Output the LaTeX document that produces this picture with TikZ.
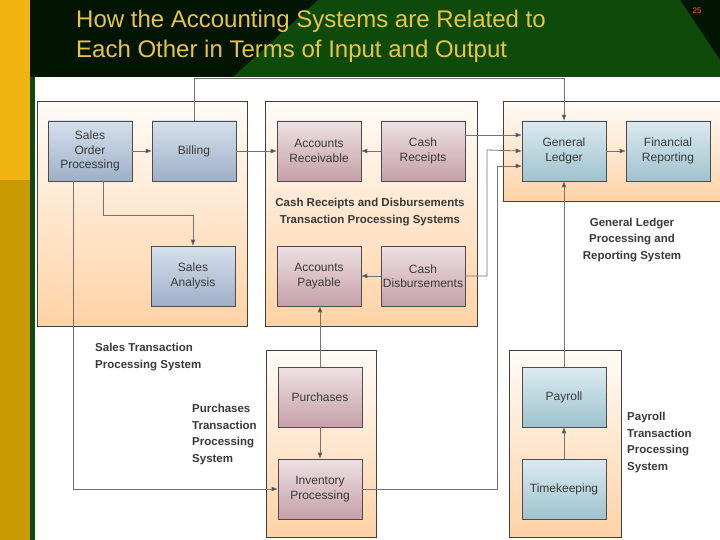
\documentclass[tikz,border=0pt]{standalone}
\usepackage{fontspec}
\setmainfont{Liberation Sans}
\usetikzlibrary{arrows.meta,calc}
\definecolor{gold}{HTML}{F0B410}
\definecolor{dgold}{HTML}{C99A00}
\definecolor{dgreen}{HTML}{0E4A0A}
\definecolor{blk}{HTML}{021402}
\definecolor{ttl}{HTML}{E8C444}
\definecolor{txt}{HTML}{3A3A3A}
\definecolor{btop}{HTML}{D6E0EC}
\definecolor{bbot}{HTML}{9DB0C8}
\definecolor{ptop}{HTML}{EDE0E4}
\definecolor{pbot}{HTML}{C6A0A8}
\definecolor{ttop}{HTML}{DCEAF0}
\definecolor{tbot}{HTML}{9EC3CE}
\begin{document}
\begin{tikzpicture}[x=1pt,y=-1pt,
  grp/.style={draw=black!75,line width=0.9pt,top color=orange!3,bottom color=orange!35!white},
  boxb/.style={draw=black!70,line width=0.7pt,top color=btop,bottom color=bbot,minimum width=84pt,minimum height=60pt,align=center,font=\fontsize{12}{14.5}\selectfont,text=txt,inner sep=1pt},
  boxp/.style={boxb,top color=ptop,bottom color=pbot},
  boxt/.style={boxb,top color=ttop,bottom color=tbot},
  lbl/.style={font=\bfseries\fontsize{11.5}{16.5}\selectfont,text=txt,inner sep=0pt},
  con/.style={draw=black!55,line width=0.8pt},
  arr/.style={con,-{Triangle[length=6pt,width=4.5pt,fill=black!75]}}]
\useasboundingbox (0,0) rectangle (720,540);
% background
\fill[white] (0,0) rectangle (720,540);
\fill[gold] (0,0) rectangle (30,180);
\fill[dgold] (0,180) rectangle (30,540);
\fill[dgreen] (30,0) rectangle (35,540);
\fill[blk] (30,0) rectangle (720,77);
\fill[dgreen] (318,0) -- (680,0) -- (720,60) -- (720,77) -- (233,77) -- cycle;
\node[anchor=west,text=ttl,font=\fontsize{24}{30}\selectfont,align=left,inner sep=0pt] (title) at (76,36) {How the Accounting Systems are Related to\\Each Other in Terms of Input and Output};
\node[text=orange!80!red,font=\fontsize{8}{9}\selectfont] (pg) at (697,11) {25};
% groups
\fill[grp] (37,101) rectangle (247,326);
\fill[grp] (265,101) rectangle (477,326);
\fill[grp] (503,101) rectangle (722,201);
\fill[grp] (266,350) rectangle (376,537);
\fill[grp] (509,350) rectangle (621,537);
% nodes
\node[boxb] (sop) at (90,151) {Sales\\Order\\Processing};
\node[boxb] (bill) at (194,151) {Billing};
\node[boxb] (sa) at (193,276) {Sales\\Analysis};
\node[boxp] (ar) at (319,151) {Accounts\\Receivable};
\node[boxp] (cr) at (423,151) {Cash\\Receipts};
\node[boxp] (ap) at (319,276) {Accounts\\Payable};
\node[boxp] (cd) at (423,276) {Cash\\Disbursements};
\node[boxt] (gl) at (564,151) {General\\Ledger};
\node[boxt] (fr) at (668,151) {Financial\\Reporting};
\node[boxp] (pu) at (320,397) {Purchases};
\node[boxp] (inv) at (320,489) {Inventory\\Processing};
\node[boxt] (pay) at (564,397) {Payroll};
\node[boxt] (tk) at (564,489) {Timekeeping};
% labels
\node[lbl,anchor=north west,align=left] (l1) at (95,343) {Sales Transaction\\Processing System};
\node[lbl,align=center] (l2) at (370,212) {Cash Receipts and Disbursements\\Transaction Processing Systems};
\node[lbl,align=center] (l3) at (632,240) {General Ledger\\Processing and\\Reporting System};
\node[lbl,anchor=north west,align=left] (l4) at (192,404) {Purchases\\Transaction\\Processing\\System};
\node[lbl,anchor=north west,align=left] (l5) at (627,412) {Payroll\\Transaction\\Processing\\System};
% connectors
\draw[arr] (sop) -- (bill);
\draw[arr] (bill) -- (ar);
\draw[arr] (cr) -- (ar);
\draw[arr] (cd) -- (ap);
\draw[arr] (gl) -- (fr);
\draw[arr] ([xshift=13pt]sop.south) |- (193,215) -- (sa.north);
\draw[arr] ([xshift=-17pt]sop.south) |- (inv.west);
\draw[arr] (bill.north) |- (564,78) -- (gl.north);
\draw[arr] ([yshift=16pt]cr.east) -- ([yshift=16pt]gl.west);
\draw[arr] (cd.east) -| (487,150) -- (gl.west);
\draw[arr] (inv.east) -| (497,166) -- ([yshift=-15pt]gl.west);
\draw[arr] (pu.north) -- ([xshift=1pt]ap.south);
\draw[arr] (pu) -- (inv);
\draw[arr] (tk) -- (pay);
\draw[arr] (pay.north) -- (gl.south);
\end{tikzpicture}
\end{document}
